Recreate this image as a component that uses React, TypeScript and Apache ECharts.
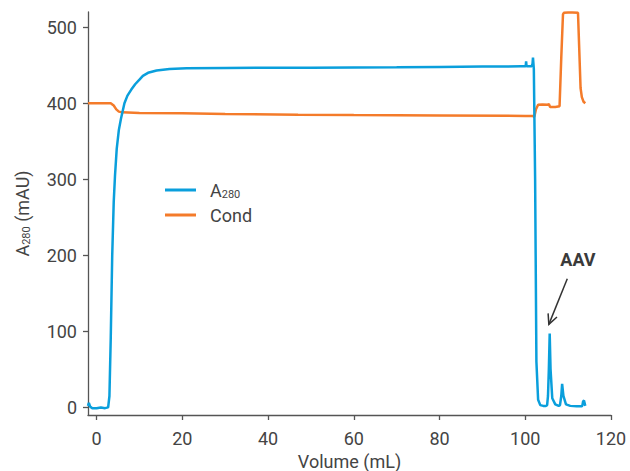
import React, { useEffect, useRef } from "react";
import * as echarts from "echarts";

// A280 trace (mAU) vs volume (mL)
const a280X = [-2, -1.8, -1.5, -1.0, 0, 1, 2, 2.7, 3.0, 3.3, 3.65, 4.0, 4.3, 4.7, 5.2, 5.7, 6.5, 7.2, 8.1, 9.0, 10, 10.8, 12, 14, 17, 21, 30, 40, 50, 60, 70, 80, 90, 99, 100.1, 100.2, 100.3, 101.5, 101.7, 101.8, 102.0, 102.3, 102.6, 103.0, 103.5, 104.2, 104.8, 105.1, 105.3, 105.5, 105.7, 105.9, 106.3, 107, 107.8, 108.1, 108.4, 108.6, 108.9, 109.5, 110.5, 112, 113.1, 113.3, 113.5, 113.7, 114];
const a280Y = [2, 6, 1, -1, -1, 0, -1, 0, 15, 90, 200, 270, 305, 340, 365, 380, 400, 410, 418, 425, 431, 436, 440, 443, 445, 446, 446.5, 446.8, 446.7, 447, 447.3, 447.8, 448.2, 448.5, 448.5, 455, 448.5, 448.8, 452, 460, 445, 300, 60, 10, 3, 2, 2, 3, 15, 50, 97, 50, 12, 4, 2, 3, 15, 31, 15, 4, 2, 1.5, 1.5, 2, 8, 9, 2, 1];

// Conductivity trace
const condX = [-2, 0, 2, 3.3, 4.0, 4.6, 5.2, 6.0, 10, 20, 30, 47, 60, 80, 100, 101.8, 102.1, 102.5, 103.0, 104, 105.3, 105.5, 105.8, 106.2, 107, 108.0, 108.4, 108.8, 109.0, 110, 111, 112.3, 112.6, 112.9, 113.2, 113.6, 114];
const condY = [400, 400, 400, 400, 397, 392, 389, 388, 387.3, 386.8, 386, 385, 384.5, 384, 383.3, 383.3, 382, 392, 398, 398.5, 398, 399, 395, 395, 395, 396, 460, 517, 519, 519.5, 519.5, 519, 470, 420, 408, 402, 400];

const xTicks = [0, 20, 40, 60, 80, 100, 120];
const yTicks = [0, 100, 200, 300, 400, 500];

const annotationLabel = "AAV";
const annotationTextAt = [112.3, 194.7];
const arrowFrom = [109.8, 169.3];
const arrowTo = [105.5, 109.2];

const FONT = "Roboto";
const TEXT = "#444444";
const AXIS = "#555555";
const BLUE = "#0a9fdc";
const ORANGE = "#f47b2a";

export default function App() {
  const ref = useRef<HTMLDivElement>(null);
  useEffect(() => {
    if (!ref.current) return;
    const chart = echarts.init(ref.current, undefined, { renderer: "svg" });
    const a280Data = a280X.map((x, i) => [x, a280Y[i]]);
    const condData = condX.map((x, i) => [x, condY[i]]);
    const rich = {
      a: { fontSize: 18, fontFamily: FONT, color: TEXT, lineHeight: 20 },
      s: { fontSize: 11, fontFamily: FONT, color: TEXT, lineHeight: 11, verticalAlign: "bottom" as const },
    };
    chart.setOption({
      animation: false,
      grid: { left: 88, right: 19, top: 12, bottom: 56, containLabel: false, outerBoundsMode: "none" },
      legend: {
        data: ["A280", "Cond"],
        orient: "vertical",
        left: 160,
        top: 176,
        itemWidth: 31,
        itemHeight: 3,
        itemGap: 6,
        icon: "rect",
        formatter: (n: string) => (n === "A280" ? "{p|}{a|A}{s|280}" : "{p|}{a|Cond}"),
        textStyle: { rich: { ...rich, p: { width: 9 } } },
      },
      xAxis: {
        type: "value",
        min: -2,
        max: 120,
        name: "Volume (mL)",
        nameLocation: "middle",
        nameGap: 37,
        nameTextStyle: { fontSize: 18, fontFamily: FONT, color: TEXT, lineHeight: 18 },
        axisLine: { show: true, onZero: false, lineStyle: { color: AXIS, width: 1.3 } },
        axisTick: { show: true, length: 5, customValues: xTicks, lineStyle: { color: AXIS, width: 1.3 } },
        axisLabel: { customValues: xTicks, fontSize: 18, fontFamily: FONT, color: TEXT, margin: 14 },
        splitLine: { show: false },
      },
      yAxis: {
        type: "value",
        min: -10,
        max: 520,
        name: "{a|A}{s|280}{a| (mAU)}",
        nameLocation: "middle",
        nameGap: 56,
        nameRotate: 90,
        nameTextStyle: { rich },
        axisLine: { show: true, onZero: false, lineStyle: { color: AXIS, width: 1.3 } },
        axisTick: { show: true, length: 5, customValues: yTicks, lineStyle: { color: AXIS, width: 1.3 } },
        axisLabel: { customValues: yTicks, fontSize: 18, fontFamily: FONT, color: TEXT, margin: 11 },
        splitLine: { show: false },
      },
      series: [
        {
          name: "Cond",
          type: "line",
          data: condData,
          symbol: "none",
          lineStyle: { color: ORANGE, width: 2.5 },
          itemStyle: { color: ORANGE },
        },
        {
          name: "A280",
          type: "line",
          data: a280Data,
          symbol: "none",
          lineStyle: { color: BLUE, width: 2.5 },
          itemStyle: { color: BLUE },
        },
      ],
    });

    const p0 = chart.convertToPixel({ gridIndex: 0 }, arrowFrom) as number[];
    const p1 = chart.convertToPixel({ gridIndex: 0 }, arrowTo) as number[];
    const pt = chart.convertToPixel({ gridIndex: 0 }, annotationTextAt) as number[];
    const ang = Math.atan2(p0[1] - p1[1], p0[0] - p1[0]);
    const head = 11;
    const spread = 0.45;
    const h1 = [p1[0] + head * Math.cos(ang + spread), p1[1] + head * Math.sin(ang + spread)];
    const h2 = [p1[0] + head * Math.cos(ang - spread), p1[1] + head * Math.sin(ang - spread)];
    chart.setOption({
      graphic: [
        {
          type: "text",
          x: pt[0],
          y: pt[1],
          style: {
            text: annotationLabel,
            fontSize: 18,
            fontWeight: "bold",
            fontFamily: FONT,
            fill: "#3a3a3a",
            align: "center",
            verticalAlign: "middle",
          },
        },
        {
          type: "line",
          shape: { x1: p0[0], y1: p0[1], x2: p1[0], y2: p1[1] },
          style: { stroke: "#333", lineWidth: 1.5 },
        },
        {
          type: "polyline",
          shape: { points: [h1, p1, h2] },
          style: { stroke: "#333", lineWidth: 1.5, fill: "none" },
        },
      ],
    });
    return () => chart.dispose();
  }, []);
  return <div ref={ref} style={{ width: 630, height: 471, position: "absolute", left: 0, top: 0 }} />;
}
